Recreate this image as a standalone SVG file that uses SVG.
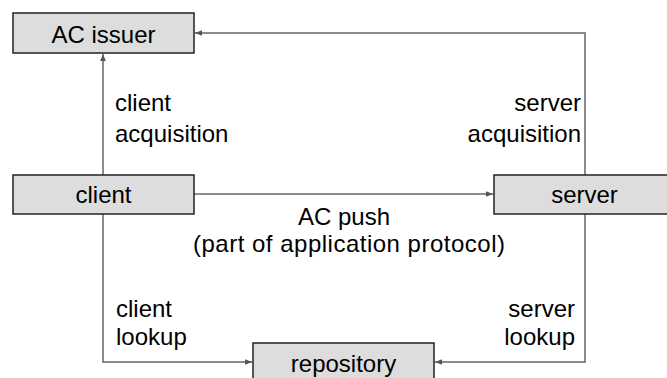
<svg xmlns="http://www.w3.org/2000/svg" width="667" height="378" viewBox="0 0 667 378">
  <style>
    .box { fill: #dddddd; stroke: #222222; stroke-width: 1.5; }
    .lbl { font-family: "Liberation Sans", Arial, sans-serif; font-size: 24px; fill: #000000; }
    .mid { text-anchor: middle; }
    .end { text-anchor: end; }
    .conn { fill: none; stroke: #666666; stroke-width: 1.5; marker-end: url(#arrow); }
  </style>
  <defs>
    <marker id="arrow" viewBox="0 0 10 10" refX="10" refY="5" markerWidth="7" markerHeight="7" markerUnits="userSpaceOnUse" orient="auto">
      <path d="M0,1 L10,5 L0,9 Z" fill="#555555"/>
    </marker>
  </defs>
  <rect width="667" height="378" fill="#ffffff"/>

  <g id="connectors">
    <path class="conn" d="M585,175 V33 H195"/>
    <path class="conn" d="M103,175 V54"/>
    <path class="conn" d="M194,194 H493"/>
    <path class="conn" d="M103,214 V362 H252"/>
    <path class="conn" d="M585,214 V362 H435"/>
  </g>

  <g id="ac-issuer">
    <rect class="box" x="13" y="13" width="181" height="40"/>
    <text class="lbl mid" x="103.5" y="43">AC issuer</text>
  </g>
  <g id="client">
    <rect class="box" x="13" y="175" width="181" height="39"/>
    <text class="lbl mid" x="103.5" y="203">client</text>
  </g>
  <g id="server">
    <rect class="box" x="494" y="175" width="181" height="39"/>
    <text class="lbl mid" x="584.5" y="203">server</text>
  </g>
  <g id="repository">
    <rect class="box" x="253" y="343" width="181" height="40"/>
    <text class="lbl mid" x="343.5" y="372">repository</text>
  </g>

  <g id="labels">
    <text class="lbl" x="115" y="111">client</text>
    <text class="lbl" x="115" y="142">acquisition</text>
    <text class="lbl end" x="581" y="111">server</text>
    <text class="lbl end" x="581" y="142">acquisition</text>
    <text class="lbl mid" x="344" y="225">AC push</text>
    <text class="lbl" x="193" y="252" textLength="312" lengthAdjust="spacing">(part of application protocol)</text>
    <text class="lbl" x="116" y="317">client</text>
    <text class="lbl" x="116" y="345">lookup</text>
    <text class="lbl end" x="575" y="317">server</text>
    <text class="lbl end" x="575" y="345">lookup</text>
  </g>
</svg>
